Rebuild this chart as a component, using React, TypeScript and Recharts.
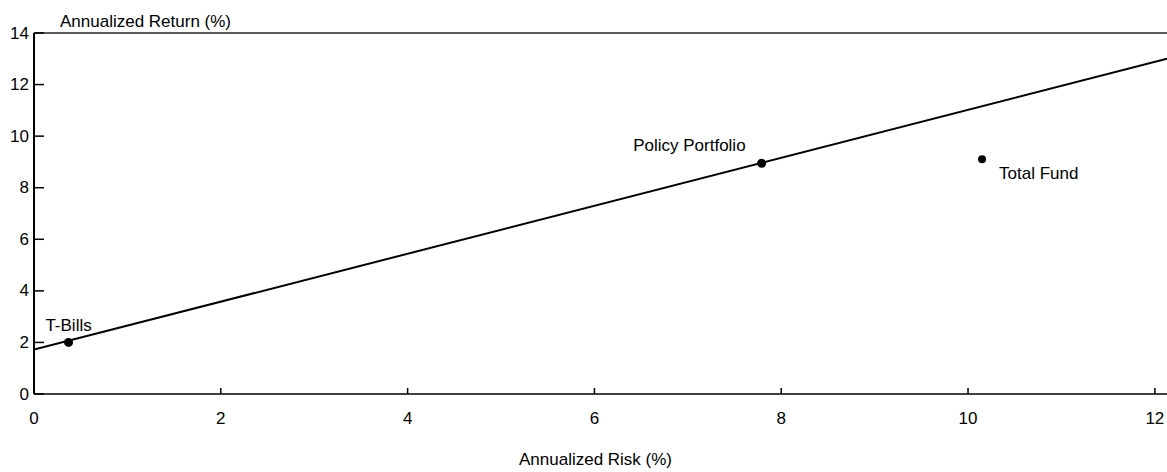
import React from 'react';
import { ComposedChart, Line, Scatter, XAxis, YAxis, ReferenceLine } from 'recharts';

const pointNames = ['T-Bills', 'Policy Portfolio', 'Total Fund'];
const pointRisk = [0.37, 7.79, 10.15];
const pointReturn = [2.0, 8.95, 9.1];
const lineRisk = [0, 12.13];
const lineReturn = [1.72, 13.0];
const xTicks = [0, 2, 4, 6, 8, 10, 12];
const yTicks = [0, 2, 4, 6, 8, 10, 12, 14];

const pointData = pointNames.map((name, i) => ({ name, risk: pointRisk[i], ret: pointReturn[i] }));
const lineData = lineRisk.map((risk, i) => ({ risk, ret: lineReturn[i] }));

const FONT = '"Liberation Sans", Arial, sans-serif';

// label placement relative to the point (style config)
const labelPlacement: Record<string, { dx: number; dy: number; anchor: 'start' | 'middle' | 'end'; r: number }> = {
  'T-Bills': { dx: 0, dy: -11, anchor: 'middle', r: 4.5 },
  'Policy Portfolio': { dx: -16, dy: -12, anchor: 'end', r: 4.5 },
  'Total Fund': { dx: 17, dy: 20, anchor: 'start', r: 4 },
};

const YTick = (props: any) => {
  const { x, y, payload } = props;
  return (
    <g>
      <line x1={x} x2={x + 10} y1={y} y2={y} stroke="#000" strokeWidth={1.5} />
      <text x={x - 5} y={y} textAnchor="end" dominantBaseline="central" fontFamily={FONT} fontSize={17} fill="#000">
        {payload.value}
      </text>
    </g>
  );
};

const XTick = (props: any) => {
  const { x, y, payload } = props;
  return (
    <g>
      <line x1={x} x2={x} y1={y} y2={y - 6} stroke="#000" strokeWidth={1.5} />
      <text x={x} y={y + 24} textAnchor="middle" dominantBaseline="central" fontFamily={FONT} fontSize={17} fill="#000">
        {payload.value}
      </text>
    </g>
  );
};

const PointShape = (props: any) => {
  const { cx, cy, payload } = props;
  const p = labelPlacement[payload.name];
  return (
    <g>
      <circle cx={cx} cy={cy} r={p.r} fill="#000" />
      <text x={cx + p.dx} y={cy + p.dy} textAnchor={p.anchor} fontFamily={FONT} fontSize={17} fill="#000">
        {payload.name}
      </text>
    </g>
  );
};

export default function App() {
  return (
    <div style={{ position: 'absolute', left: 0, top: 0, width: 1167, height: 472, background: '#fff' }}>
      <ComposedChart width={1167} height={472} margin={{ top: 33, right: 0, bottom: 0, left: 0 }}>
        <XAxis
          type="number"
          dataKey="risk"
          domain={[0, 12.13]}
          ticks={xTicks}
          allowDataOverflow
          height={78}
          tickSize={0}
          tickMargin={0}
          tickLine={false}
          tick={<XTick />}
          axisLine={{ stroke: '#000', strokeWidth: 1.5 }}
          label={{ value: 'Annualized Risk (%)', position: 'insideBottom', offset: 7, dx: -5, fill: '#000', fontSize: 17, fontFamily: FONT }}
        />
        <YAxis
          type="number"
          dataKey="ret"
          domain={[0, 14]}
          ticks={yTicks}
          allowDataOverflow
          width={34}
          tickSize={0}
          tickMargin={0}
          tickLine={false}
          tick={<YTick />}
          axisLine={{ stroke: '#000', strokeWidth: 2 }}
          label={(p: any) => (
            <text x={60} y={27} fontFamily={FONT} fontSize={17} fill="#000">
              Annualized Return (%)
            </text>
          )}
        />
        <ReferenceLine y={14} stroke="#222" strokeWidth={1.5} />
        <Line
          data={lineData}
          dataKey="ret"
          stroke="#000"
          strokeWidth={2}
          dot={false}
          activeDot={false}
          isAnimationActive={false}
        />
        <Scatter data={pointData} dataKey="ret" shape={<PointShape />} isAnimationActive={false} />
      </ComposedChart>
    </div>
  );
}
